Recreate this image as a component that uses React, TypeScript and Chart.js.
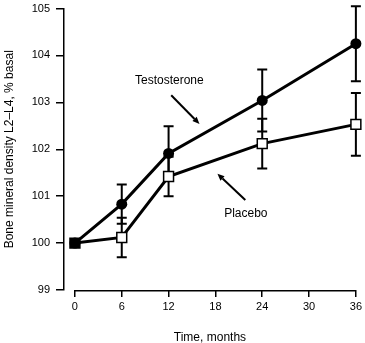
import { useEffect, useRef } from 'react';
import { Chart, registerables } from 'chart.js';

Chart.register(...registerables);

const months = [0, 6, 12, 24, 36];
const testosterone = [100, 100.83, 101.91, 103.04, 104.25];
const testosteroneErr = [0, 0.42, 0.58, 0.66, 0.8];
const placebo = [100, 100.12, 101.42, 102.12, 102.53];
const placeboErr = [0, 0.42, 0.42, 0.53, 0.67];
const xTicks = [0, 6, 12, 18, 24, 30, 36];
const seriesNames = ['Placebo', 'Testosterone'];

// annotation labels and arrows, in data units (months, % basal)
const noteLabels = ['Testosterone', 'Placebo'];
const noteLabelX = [12.1, 21.9];
const noteLabelY = [103.46, 100.62];
const arrowFromX = [12.34, 21.83];
const arrowFromY = [103.15, 100.92];
const arrowToX = [15.96, 18.26];
const arrowToY = [102.54, 101.48];

const FONT = "'Liberation Sans', Arial, Helvetica, sans-serif";

const errorBarPlugin = {
  id: 'errorBars',
  beforeDatasetsDraw(chart: any) {
    const { ctx, scales } = chart;
    const xs = scales.x;
    const ys = scales.y;
    const sets: [number[], number[]][] = [
      [testosterone, testosteroneErr],
      [placebo, placeboErr],
    ];
    ctx.save();
    ctx.strokeStyle = '#000';
    ctx.lineWidth = 2;
    ctx.lineCap = 'butt';
    sets.forEach(([vals, errs]) => {
      months.forEach((m, i) => {
        const e = errs[i];
        if (!e) return;
        const px = xs.getPixelForValue(m);
        const top = ys.getPixelForValue(vals[i] + e);
        const bot = ys.getPixelForValue(vals[i] - e);
        ctx.beginPath();
        ctx.moveTo(px, top);
        ctx.lineTo(px, bot);
        ctx.moveTo(px - 5, top);
        ctx.lineTo(px + 5, top);
        ctx.moveTo(px - 5, bot);
        ctx.lineTo(px + 5, bot);
        ctx.stroke();
      });
    });
    ctx.restore();
  },
};

const axisAndNotesPlugin = {
  id: 'axisAndNotes',
  afterDraw(chart: any) {
    const { ctx, scales, chartArea } = chart;
    const xs = scales.x;
    const ys = scales.y;
    ctx.save();
    // detached x axis line
    ctx.strokeStyle = '#000';
    ctx.lineWidth = 1.5;
    ctx.beginPath();
    const yLine = Math.round(chartArea.bottom) + 0.75;
    ctx.moveTo(xs.getPixelForValue(xTicks[0]), yLine);
    ctx.lineTo(xs.getPixelForValue(xTicks[xTicks.length - 1]), yLine);
    ctx.stroke();

    // labels
    ctx.fillStyle = '#000';
    ctx.font = `12px ${FONT}`;
    ctx.textAlign = 'center';
    ctx.textBaseline = 'middle';
    noteLabels.forEach((t, i) => {
      ctx.fillText(t, xs.getPixelForValue(noteLabelX[i]), ys.getPixelForValue(noteLabelY[i]));
    });

    // arrows
    ctx.lineWidth = 2;
    noteLabels.forEach((_, i) => {
      const x1 = xs.getPixelForValue(arrowFromX[i]);
      const y1 = ys.getPixelForValue(arrowFromY[i]);
      const x2 = xs.getPixelForValue(arrowToX[i]);
      const y2 = ys.getPixelForValue(arrowToY[i]);
      const ang = Math.atan2(y2 - y1, x2 - x1);
      const hl = 7;
      const hw = 3;
      const bx = x2 - hl * Math.cos(ang);
      const by = y2 - hl * Math.sin(ang);
      ctx.beginPath();
      ctx.moveTo(x1, y1);
      ctx.lineTo(bx, by);
      ctx.stroke();
      ctx.beginPath();
      ctx.moveTo(x2, y2);
      ctx.lineTo(bx + hw * Math.sin(ang), by - hw * Math.cos(ang));
      ctx.lineTo(bx - hw * Math.sin(ang), by + hw * Math.cos(ang));
      ctx.closePath();
      ctx.fill();
    });
    ctx.restore();
  },
};

export default function App() {
  const canvasRef = useRef<HTMLCanvasElement | null>(null);

  useEffect(() => {
    document.body.style.margin = '0';
    const canvas = canvasRef.current;
    if (!canvas) return;
    const chart = new Chart(canvas, {
      type: 'line',
      data: {
        datasets: [
          {
            label: seriesNames[0],
            data: months.map((m, i) => ({ x: m, y: placebo[i] })),
            borderColor: '#000',
            borderWidth: 3,
            pointStyle: 'rect',
            pointRadius: 7,
            pointBorderWidth: 1.5,
            pointBorderColor: '#000',
            pointBackgroundColor: months.map((_, i) => (i === 0 ? '#000' : '#fff')),
            clip: false,
          },
          {
            label: seriesNames[1],
            data: months.map((m, i) => ({ x: m, y: testosterone[i] })),
            borderColor: '#000',
            borderWidth: 3,
            pointStyle: 'circle',
            pointRadius: 5.5,
            pointBorderWidth: 0,
            pointBackgroundColor: '#000',
            clip: false,
          },
        ],
      },
      options: {
        animation: false,
        responsive: false,
        devicePixelRatio: 1,
        layout: { padding: { top: 5, right: 8, left: 0, bottom: 0 } },
        plugins: {
          legend: { display: false },
          tooltip: { enabled: false },
        },
        scales: {
          x: {
            type: 'linear',
            min: -1.4,
            max: 36,
            afterBuildTicks: (scale: any) => {
              scale.ticks = xTicks.map((v) => ({ value: v }));
            },
            afterFit: (scale: any) => {
              scale.height = 53;
            },
            border: { display: false },
            grid: {
              drawOnChartArea: false,
              drawTicks: true,
              tickLength: 7,
              color: '#000',
              lineWidth: 1.5,
            },
            ticks: {
              autoSkip: false,
              maxRotation: 0,
              padding: 3,
              color: '#000',
              font: { family: FONT, size: 11 },
            },
            title: {
              display: true,
              text: 'Time, months',
              color: '#000',
              font: { family: FONT, size: 12 },
              padding: { top: 0, bottom: -2 },
            },
          },
          y: {
            type: 'linear',
            min: 99,
            max: 105,
            afterFit: (scale: any) => {
              scale.width = 64;
              scale.paddingTop = 0;
              scale.paddingBottom = 0;
            },
            border: { display: true, color: '#000', width: 1.5 },
            grid: {
              drawOnChartArea: false,
              drawTicks: true,
              tickLength: 8,
              color: '#000',
              lineWidth: 1.5,
            },
            ticks: {
              stepSize: 1,
              padding: 6,
              color: '#000',
              font: { family: FONT, size: 11 },
            },
            title: {
              display: true,
              text: 'Bone mineral density L2–L4, % basal',
              color: '#000',
              font: { family: FONT, size: 12 },
              padding: { top: 2, bottom: 0 },
            },
          },
        },
      },
      plugins: [errorBarPlugin, axisAndNotesPlugin],
    });
    return () => chart.destroy();
  }, []);

  return <canvas ref={canvasRef} width={365} height={343} style={{ display: 'block' }} />;
}
